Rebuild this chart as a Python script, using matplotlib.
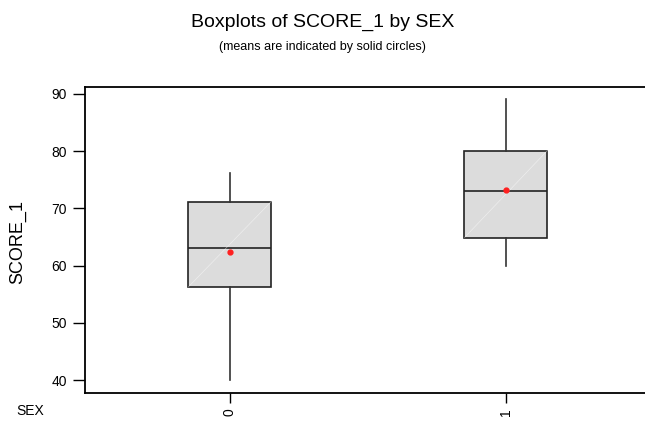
import numpy as np
import matplotlib.pyplot as plt

# Data
groups = ["0", "1"]
positions = [0, 1]
whisker_low = [40.0, 60.0]
q1 = [56.3, 64.9]
medians = [63.1, 73.0]
q3 = [71.2, 80.1]
whisker_high = [76.1, 89.1]
means = [62.3, 73.3]
y_ticks = [40, 50, 60, 70, 80, 90]

plt.rcParams['font.family'] = ['Liberation Sans', 'DejaVu Sans']

fig = plt.figure(figsize=(6.45, 4.23), dpi=100)
ax = fig.add_axes([85 / 645, 1 - 393 / 423, 1 - 85 / 645, 306 / 423])

stats = []
for i in range(len(groups)):
    stats.append({
        'label': groups[i],
        'whislo': whisker_low[i],
        'q1': q1[i],
        'med': medians[i],
        'q3': q3[i],
        'whishi': whisker_high[i],
        'fliers': [],
    })

bp = ax.bxp(stats, positions=positions, widths=0.3, patch_artist=True,
            showcaps=False,
            boxprops=dict(facecolor='#dcdcdc', edgecolor='#222222', linewidth=1.2),
            medianprops=dict(color='#222222', linewidth=1.2),
            whiskerprops=dict(color='#333333', linewidth=1.2))

# faint diagonal seen inside the boxes
for i, p in enumerate(positions):
    ax.plot([p - 0.15, p + 0.15], [q1[i], q3[i]], color='white', lw=0.5, alpha=0.5, zorder=3)

ax.plot(positions, means, linestyle='none', marker='o', markersize=3.5,
        color='#ff2020', zorder=4)

ax.set_xlim(-0.525, 1.504)
ax.set_ylim(37.73, 91.22)
ax.set_yticks(y_ticks)
ax.set_xticks(positions)
ax.set_xticklabels(groups, rotation=90)

ax.spines['right'].set_visible(False)
for s in ['left', 'top', 'bottom']:
    ax.spines[s].set_linewidth(1.3)
    ax.spines[s].set_color('black')
ax.tick_params(axis='y', direction='out', length=9, width=1, labelsize=10, pad=4)
ax.tick_params(axis='x', direction='out', length=7, width=1, labelsize=10, pad=4)

fig.text(18 / 645, 1 - 242 / 423, 'SCORE_1', fontsize=13, rotation=90, ha='center', va='center')
fig.text(30 / 645, 1 - 411 / 423, 'SEX', fontsize=10, ha='center', va='center')

fig.text(0.5, 1 - 22 / 423, 'Boxplots of SCORE_1 by SEX', fontsize=14, ha='center', va='center')
fig.text(0.5, 1 - 47 / 423, '(means are indicated by solid circles)', fontsize=9, ha='center', va='center')

fig.savefig('out.png', dpi=100)
